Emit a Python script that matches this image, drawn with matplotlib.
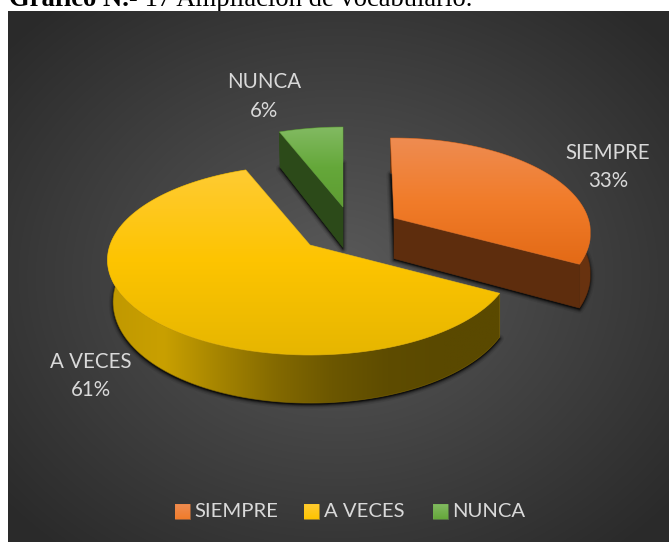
import numpy as np
import matplotlib
matplotlib.use("Agg")
import matplotlib.pyplot as plt
from matplotlib.colors import LinearSegmentedColormap, to_rgb
from matplotlib.patches import Polygon

# ---- data ----
categories = ["SIEMPRE", "A VECES", "NUNCA"]
values = [33, 61, 6]
title_bold = "Gráfico N.-"
title_rest = " 17 Ampliación de vocabulario."

# ---- style / geometry (pixels) ----
W, H = 669, 542
RY, PERSP, DEPTH = 92.6, 0.158, 40.5
rx_each = [194.0, 200.0, 198.0]
apexes = [(394, 218), (310, 245), (343, 207)]
tilt = [-1.2, 0, 0]
top_stops = [["#ee8c52", "#f17c2a", "#e36a16"],
             ["#ffcb33", "#fdc400", "#e6b600"],
             ["#82ba62", "#65a83a", "#5e9c32"]]
cut_col = ["#5e2d0d", None, "#2c4a19"]
arc_stops = [["#5e2d0d", "#5e2d0d", "#693310"],
             ["#c09800", "#c9a000", "#a58400", "#846a00", "#6c5700", "#5e4c00", "#5a4900", "#5a4900"],
             ["#2c4a19", "#2c4a19"]]
label_pos = [(608, 153, 181), (91, 362, 390), (264, 82, 111)]
legend_x = [175, 304, 433]
text_col = "#d9d9d9"

plt.rcParams["font.family"] = ["Lato", "DejaVu Sans"]
fig = plt.figure(figsize=(W / 100, H / 100), dpi=100, facecolor="white")
ax = fig.add_axes([0, 0, 1, 1])
ax.axis("off")
ax.set_xlim(0, W)
ax.set_ylim(H, 0)
ax.set_autoscale_on(False)


def pts(apex, rx, a0, a1, n=120, depth=False):
    th = np.radians(np.linspace(a0, a1, n))
    X, Y = np.sin(th), np.cos(th)
    s = 1 / (1 + PERSP * Y)
    sx = rx * X * s
    y = apex[1] - RY * Y * s
    if depth:
        y = y + DEPTH * s
        sx = sx * (1 - 0.028 * np.clip(-X, 0, 1))
    return np.column_stack([apex[0] + sx, y])


def grad_fill(poly, stops, horizontal=False, z=2):
    xy = np.asarray(poly)
    x0, x1 = xy[:, 0].min(), xy[:, 0].max()
    y0, y1 = xy[:, 1].min(), xy[:, 1].max()
    cmap = LinearSegmentedColormap.from_list("g", stops)
    g = np.linspace(0, 1, 256)
    arr = g[None, :] if horizontal else g[:, None]
    im = ax.imshow(arr, cmap=cmap, vmin=0, vmax=1, aspect="auto", origin="upper",
                   extent=(x0, x1, y1, y0), zorder=z, interpolation="bilinear")
    p = Polygon(xy, closed=True, fc="none", ec="none", transform=ax.transData)
    ax.add_patch(p)
    im.set_clip_path(p)
    rgb = [to_rgb(c) for c in stops]
    ax.add_patch(Polygon(xy, closed=True, fc="none", ec=np.mean(rgb, axis=0), lw=0.5,
                         alpha=0.7, zorder=z))


# background
yy, xx = np.mgrid[11:542, 8:669]
r = np.sqrt(((xx - 338) / 440.0) ** 2 + ((yy - 276) / 360.0) ** 2)
bgcmap = LinearSegmentedColormap.from_list("bg", ["#5a5a5a", "#2a2a2a"])
ax.imshow(np.clip(r, 0, 1), cmap=bgcmap, vmin=0, vmax=1, extent=(8, 669, 542, 11),
          aspect="auto", zorder=0, origin="upper")

# slices from the values
angles = np.cumsum([0] + values) * 3.6
shapes = []
for i, (v, apex) in enumerate(zip(values, apexes)):
    a0, a1 = angles[i] + tilt[i], angles[i + 1] + tilt[i]
    arc = pts(apex, rx_each[i], a0, a1)
    arcb = pts(apex, rx_each[i], a0, a1, depth=True)
    top = np.vstack([[apex], arc])
    apexb = (apex[0], apex[1] + DEPTH)
    bottom = np.vstack([[apexb], arcb])
    shapes.append((i, apex, apexb, arc, arcb, top, bottom))

# soft shadows
for i, apex, apexb, arc, arcb, top, bottom in shapes:
    for lw, al in [(6, 0.08), (4, 0.12), (2.5, 0.2), (1.2, 0.3)]:
        ax.add_patch(Polygon(bottom + [0, 1.5], closed=True, fc="black", ec="black", lw=lw,
                             alpha=al, zorder=1, joinstyle="round"))

# draw order back to front
for idx in [2, 0, 1]:
    i, apex, apexb, arc, arcb, top, bottom = shapes[idx]
    wall = np.vstack([arc, arcb[::-1]])
    grad_fill(wall, arc_stops[i], horizontal=True, z=3 + idx)
    if cut_col[i] is not None:
        edge = arc[0] if i == 2 else arc[-1]
        edgeb = arcb[0] if i == 2 else arcb[-1]
        quad = np.array([apex, edge, edgeb, apexb])
        ax.add_patch(Polygon(quad, closed=True, fc=cut_col[i], ec=cut_col[i], lw=0.4,
                             zorder=3 + idx))
    grad_fill(top, top_stops[i], z=3.5 + idx)

# labels
for (x, y1, y2), c, v in zip(label_pos, categories, values):
    ax.text(x, y1, c, color=text_col, fontsize=14.8, ha="center", va="center", zorder=10)
    ax.text(x, y2, f"{v}%", color=text_col, fontsize=14.8, ha="center", va="center", zorder=10)

# legend
for x, c, st in zip(legend_x, categories, top_stops):
    grad_fill(np.array([[x, 504], [x + 15, 504], [x + 15, 519], [x, 519]]), st[:2], z=10)
    ax.text(x + 19.5, 511.5, c, color=text_col, fontsize=14.6, ha="left", va="center", zorder=10)

# title (the reference's own crop cuts its upper part; the chart covers descenders)
t1 = ax.text(9, 6.5, title_bold, family="Liberation Serif", weight="bold", fontsize=19.2,
             color="black", ha="left", va="baseline", zorder=-1)
fig.canvas.draw()
bb = t1.get_window_extent()
ax.text(bb.x1, 6.5, title_rest, family="Liberation Serif", fontsize=19.2, color="black",
        ha="left", va="baseline", zorder=-1)

fig.savefig("out.png", dpi=100, facecolor="white")
